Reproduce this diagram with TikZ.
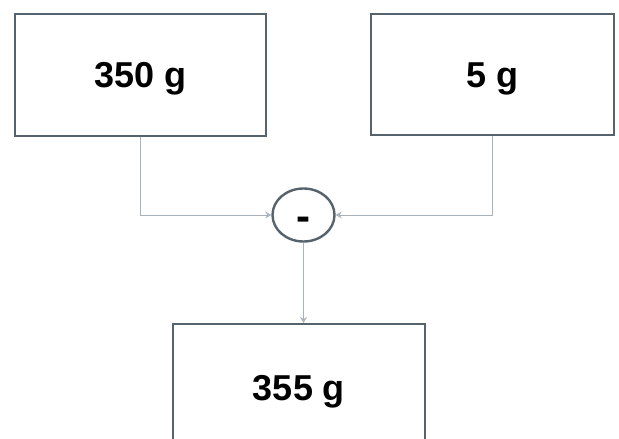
\documentclass[tikz,border=0pt]{standalone}
\usepackage{fontspec}
\setmainfont{Liberation Sans}
\usepackage{xcolor}
\usetikzlibrary{arrows.meta}
\usetikzlibrary{shapes,shapes.geometric}
\definecolor{boxgrey}{HTML}{56626C}
\definecolor{linegrey}{HTML}{A8B2BC}
\tikzset{>=stealth}
\tikzset{
  massbox/.style={draw=boxgrey, line width=2pt, fill=white, inner sep=0pt,
    text height=25pt, text depth=0pt,
    font=\fontsize{36}{40}\selectfont\bfseries},
  sumnode/.style={ellipse, draw=boxgrey, line width=2.4pt, fill=white, inner sep=0pt,
    minimum width=62pt, minimum height=53pt, text height=31pt, text depth=0pt,
    font=\fontsize{42}{46}\selectfont\bfseries},
  feed/.style={draw=linegrey, line width=1pt, -{Stealth[open, length=6pt, width=7pt]}}
}

\begin{document}
\begin{tikzpicture}[x=1pt, y=-1pt]
      \clip (0,0) rectangle (619,439);
      \fill[white] (0,0) rectangle (619,439);
      \node[massbox, minimum width=251pt, minimum height=122pt] (first) at (140.5,75) {350 g};
      \node[massbox, minimum width=243pt, minimum height=121pt] (second) at (492.5,74.5) {5 g};
      \node[sumnode] (minus) at (303.5,215) {-};
      \node[massbox, minimum width=252pt, minimum height=128pt] (total) at (299,388) {355 g};
      \draw[feed] (first.south) |- (minus.west) ;
      \draw[feed] (second.south) |- (minus.east) ;
      \draw[feed] (minus.south) -- (minus.south |- total.north) ;
    \end{tikzpicture}
\end{document}
